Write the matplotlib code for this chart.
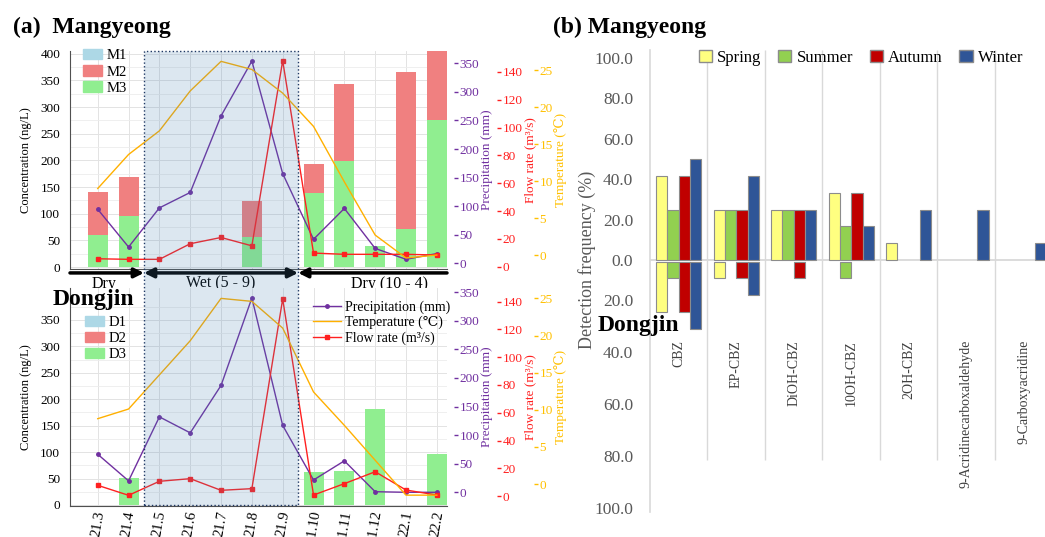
import numpy as np
import matplotlib
matplotlib.use('Agg')
import matplotlib.pyplot as plt
import matplotlib.transforms as mtransforms
from matplotlib.patches import Rectangle, Patch
from matplotlib.lines import Line2D

plt.rcParams['font.family'] = ['Liberation Serif', 'DejaVu Serif', 'DejaVu Sans']

# ---- panel (a): monthly concentrations and weather ----
months = ['21.3', '21.4', '21.5', '21.6', '21.7', '21.8', '21.9',
          '21.10', '21.11', '21.12', '22.1', '22.2']

mg_m1 = [0, 0, 0, 0, 0, 0, 0, 0, 0, 0, 0, 0]
mg_m2 = [81, 73, 0, 0, 0, 68, 0, 54, 144, 0, 295, 150]
mg_m3 = [60, 96, 0, 0, 0, 56, 0, 139, 199, 40, 71, 275]
mg_precip = [94.5, 28.5, 97, 124, 258, 354, 157, 42, 96, 26, 7, 17]
mg_flow = [5.7, 5.3, 5.3, 16.5, 21, 15, 148, 9.8, 8.9, 8.9, 8.9, 8.4]
mg_temp = [9.0, 13.6, 16.8, 22.2, 26.2, 25.1, 21.9, 17.4, 9.9, 2.7, -0.4, 0.0]

dj_d1 = [0, 0, 0, 0, 0, 0, 0, 0, 0, 0, 0, 0]
dj_d2 = [0, 0, 0, 0, 0, 0, 0, 0, 0, 0, 0, 0]
dj_d3 = [0, 52, 0, 0, 0, 0, 0, 62, 64, 181, 0, 96]
dj_precip = [66.5, 20, 132, 104, 187, 340, 117, 21.5, 55, 1, 0, 0]
dj_flow = [7.7, 0.5, 10.6, 12.5, 4.1, 5.3, 142, 0.7, 8.9, 17.5, 4.3, 0.7]
dj_temp = [8.8, 10.1, 14.7, 19.3, 25.0, 24.6, 21.0, 12.4, 7.9, 3.2, -1.5, -1.5]

# ---- panel (b): detection frequency ----
compounds = ['CBZ', 'EP-CBZ', 'DiOH-CBZ', '10OH-CBZ', '2OH-CBZ',
             '9-Acridinecarboxaldehyde', '9-Carboxyacridine']
seasons = ['Spring', 'Summer', 'Autumn', 'Winter']
mg_spring = [41.7, 25.0, 25.0, 33.3, 8.3, 0, 0]
mg_summer = [25.0, 25.0, 25.0, 16.7, 0, 0, 0]
mg_autumn = [41.7, 25.0, 25.0, 33.3, 0, 0, 0]
mg_winter = [50.0, 41.7, 25.0, 16.7, 25.0, 25.0, 8.3]
dj_spring = [25.0, 8.3, 0, 0, 0, 0, 0]
dj_summer = [8.3, 0, 0, 8.3, 0, 0, 0]
dj_autumn = [25.0, 8.3, 8.3, 0, 0, 0, 0]
dj_winter = [33.3, 16.7, 0, 0, 0, 0, 0]

W, H = 1045, 537
fig = plt.figure(figsize=(W / 100, H / 100), dpi=100)


def box(x0, y0, x1, y1):
    return [x0 / W, 1 - y1 / H, (x1 - x0) / W, (y1 - y0) / H]


C_PR = '#7030a0'
C_FL = '#ff2020'
C_TP = '#ffb000'
C_TPT = '#ffc000'
XLIM = (-0.9, 11.33)


def side_axis(ax, off, color, lim, ticks, label):
    t = ax.twinx()
    t.set_ylim(lim)
    t.set_yticks(ticks)
    for s in ['left', 'top', 'bottom']:
        t.spines[s].set_visible(False)
    t.spines['right'].set_position(('outward', off))
    t.spines['right'].set_color('none')
    t.tick_params(axis='y', colors=color, labelsize=9.5, length=3, width=1, pad=1)
    t.set_ylabel(label, color=color, fontsize=9.5, labelpad=1)
    return t


def monthly(rect, b1, b2, b3, names, precip, flow, temp, lims, cticks, last):
    ax = fig.add_axes(rect)
    x = np.arange(len(months))
    b3 = np.array(b3, float)
    b2 = np.array(b2, float)
    b1 = np.array(b1, float)
    ax.bar(x, b3, 0.65, color='#90ee90')
    ax.bar(x, b2, 0.65, bottom=b3, color='#f08080')
    ax.bar(x, b1, 0.65, bottom=b3 + b2, color='#add8e6')
    ax.set_xlim(XLIM)
    ax.set_ylim(lims[0])
    ax.set_yticks(cticks)
    ax.set_yticks(np.arange(25, lims[0][1], 50), minor=True)
    ax.set_xticks(x)
    ax.grid(True, which='major', color='#e3e3e3', lw=0.7)
    ax.grid(True, which='minor', axis='y', color='#ededed', lw=0.6)
    ax.set_axisbelow(True)
    for s in ['top', 'right']:
        ax.spines[s].set_visible(False)
    for s in ['left', 'bottom']:
        ax.spines[s].set_color('#505050')
    ax.tick_params(axis='y', which='major', labelsize=9.5, length=0, pad=7)
    ax.tick_params(axis='y', which='minor', length=0)
    if last:
        ax.set_xticklabels(months, rotation=80, fontsize=10.5)
        ax.tick_params(axis='x', length=0, pad=3)
    else:
        ax.tick_params(axis='x', length=0, labelbottom=False)
    ax.set_ylabel('Concentration (ng/L)', fontsize=9, labelpad=6)

    pr = side_axis(ax, 5, C_PR, lims[1], np.arange(0, 351, 50), 'Precipitation (mm)')
    fl = side_axis(ax, 36, C_FL, lims[2], np.arange(0, 141, 20), 'Flow rate (m³/s)')
    tp = side_axis(ax, 62.5, C_TPT, lims[3], np.arange(0, 26, 5), 'Temperature (℃)')
    pr.plot(x, precip, color=C_PR, marker='o', ms=2.5, lw=1)
    tp.plot(x, temp, color=C_TP, lw=1)
    fl.plot(x, flow, color=C_FL, marker='s', ms=2.5, lw=1)
    for t in (pr, fl, tp):
        t.set_xlim(XLIM)

    cols = ['#add8e6', '#f08080', '#90ee90']
    ax.legend(handles=[Patch(color=c, label=n) for c, n in zip(cols, names)],
              loc='upper left', bbox_to_anchor=lims[4], frameon=False,
              fontsize=10.5, handlelength=1.3, handleheight=0.7,
              labelspacing=0.2, handletextpad=0.3, borderaxespad=0)
    return ax, tp


ax_top, tp_top = monthly(box(70, 51, 447, 269), mg_m1, mg_m2, mg_m3, ['M1', 'M2', 'M3'],
                         mg_precip, mg_flow, mg_temp,
                         [(-3.75, 405), (-10, 371.6), (-1.65, 155), (-1.89, 27.6), (0.02, 1.035)],
                         np.arange(0, 401, 50), False)
ax_bot, tp_bot = monthly(box(70, 288, 447, 506), dj_d1, dj_d2, dj_d3, ['D1', 'D2', 'D3'],
                         dj_precip, dj_flow, dj_temp,
                         [(-1.9, 410.5), (-24, 357.5), (-7.2, 149.9), (-2.96, 26.4), (0.025, 0.9)],
                         np.arange(0, 351, 50), True)

tp_bot.legend(handles=[Line2D([], [], color=C_PR, marker='o', ms=2.5, lw=1, label='Precipitation (mm)'),
                       Line2D([], [], color=C_TP, lw=1, label='Temperature (℃)'),
                       Line2D([], [], color=C_FL, marker='s', ms=2.5, lw=1, label='Flow rate (m³/s)')],
              loc='upper left', bbox_to_anchor=(0.63, 0.97), frameon=False, fontsize=10,
              handlelength=2.0, labelspacing=0.15, handletextpad=0.3, borderaxespad=0)

# season arrows between the panels
ya = -0.018
arr = dict(lw=2.5, color='black', shrinkA=0, shrinkB=0, mutation_scale=14)
ax_top.annotate('', xy=(1.5, ya), xytext=(XLIM[0], ya), xycoords=('data', 'axes fraction'),
                arrowprops=dict(arrowstyle='-|>', **arr), annotation_clip=False)
ax_top.annotate('', xy=(6.5, ya), xytext=(1.5, ya), xycoords=('data', 'axes fraction'),
                arrowprops=dict(arrowstyle='<|-|>', **arr), annotation_clip=False)
ax_top.annotate('', xy=(6.5, ya), xytext=(XLIM[1], ya), xycoords=('data', 'axes fraction'),
                arrowprops=dict(arrowstyle='-|>', **arr), annotation_clip=False)
for xt, lab in [(0.2, 'Dry'), (4, 'Wet (5 - 9)'), (9.45, 'Dry (10 - 4)')]:
    ax_top.text(xt, -0.068, lab, transform=ax_top.get_xaxis_transform(), ha='center',
                va='center', fontsize=11.5)

# wet season shading spanning both panels
blend = mtransforms.blended_transform_factory(ax_top.transData, fig.transFigure)
fig.add_artist(Rectangle((1.5, 1 - 505 / H), 5, (505 - 51) / H, transform=blend,
                         facecolor=(70 / 255, 130 / 255, 180 / 255, 0.19),
                         edgecolor='#1f3864', linestyle=':', lw=1, zorder=5))

fig.text(13 / W, 1 - 33 / H, '(a)  Mangyeong', fontsize=17, weight='bold', va='baseline')
fig.text(53 / W, 1 - 305 / H, 'Dongjin', fontsize=17, weight='bold', va='baseline', zorder=6)

# ---- panel (b) ----
ax_b = fig.add_axes(box(650, 50, 1045, 512))
ax_b.set_xlim(-0.5, 6.37)
ax_b.set_ylim(-124.8, 104)
cx = np.arange(len(compounds))
bw = 0.196
colors_b = ['#ffff80', '#92d050', '#c00000', '#2f5597']
mg_all = [mg_spring, mg_summer, mg_autumn, mg_winter]
dj_all = [dj_spring, dj_summer, dj_autumn, dj_winter]
for k in range(4):
    xs = cx + (k - 1.5) * bw
    up = np.array(mg_all[k])
    dn = np.array(dj_all[k])
    ax_b.bar(xs[up > 0], up[up > 0], bw, color=colors_b[k], edgecolor='#8c8c8c', lw=0.8, zorder=3)
    ax_b.bar(xs[dn > 0], -dn[dn > 0], bw, bottom=-0.8, color=colors_b[k], edgecolor='#8c8c8c',
             lw=0.8, zorder=3)

ax_b.vlines(np.arange(0.5, 7), -99, 104, color='#d9d9d9', lw=1, zorder=1)
ax_b.axhline(0, color='#d9d9d9', lw=1.3, zorder=2)
for s in ['top', 'right', 'bottom']:
    ax_b.spines[s].set_visible(False)
ax_b.spines['left'].set_color('#d9d9d9')
ax_b.spines['left'].set_linewidth(1.2)
ax_b.set_xticks([])
ax_b.set_yticks([0, 20, 40, 60, 80, 100])
ax_b.set_yticklabels(['%.1f' % v for v in [0, 20, 40, 60, 80, 100]])
ax_b.tick_params(axis='y', labelsize=12.5, labelcolor='#595959', length=0, pad=12)
for i, name in enumerate(compounds):
    ax_b.text(i, -39.6, name, rotation=90, ha='center', va='top', fontsize=10, color='#404040')

ax_b2 = ax_b.twinx()
ax_b2.set_ylim(101.5, -76.2)
ax_b2.yaxis.tick_left()
for s in ax_b2.spines.values():
    s.set_visible(False)
ax_b2.set_yticks([20, 40, 60, 80, 100])
ax_b2.set_yticklabels(['%.1f' % v for v in [20, 40, 60, 80, 100]])
ax_b2.tick_params(axis='y', labelsize=12.5, labelcolor='#595959', length=0, pad=12)

ax_b.set_ylabel('Detection frequency (%)', fontsize=13, color='#595959')
ax_b.yaxis.set_label_coords(-0.137, 0.545)

ax_b2.legend(handles=[Patch(facecolor=c, edgecolor='#8c8c8c', label=s) for c, s in zip(colors_b, seasons)],
             ncol=4, loc='upper center', bbox_to_anchor=(0.534, 1.015), frameon=False, fontsize=12,
             handlelength=0.8, handleheight=0.8, handletextpad=0.3, columnspacing=1.0, borderaxespad=0)

fig.text(553 / W, 1 - 33 / H, '(b) Mangyeong', fontsize=17, weight='bold', va='baseline')
fig.text(598 / W, 1 - 331 / H, 'Dongjin', fontsize=17, weight='bold', va='baseline')

fig.savefig('out.png', dpi=100)
